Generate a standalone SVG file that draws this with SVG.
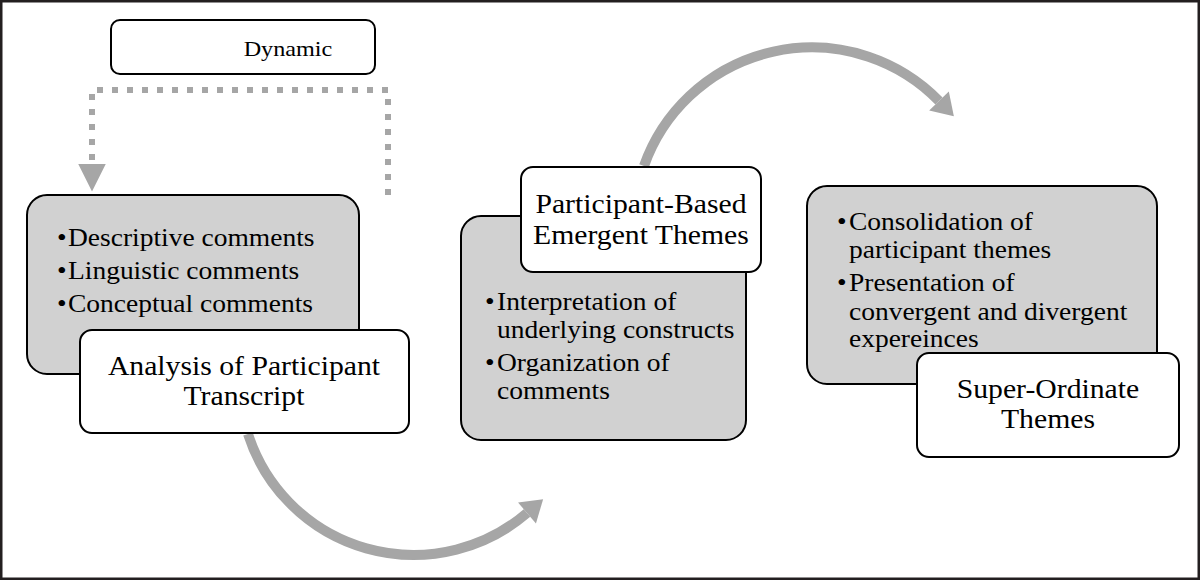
<svg xmlns="http://www.w3.org/2000/svg" width="1200" height="580" viewBox="0 0 1200 580">
<style>
.frame{fill:#fff;stroke:#231f20;stroke-width:2.5}
.gbox{fill:#d1d1d1;stroke:#000;stroke-width:2}
.wbox{fill:#fff;stroke:#000;stroke-width:2}
.t{font-family:"Liberation Serif","Times New Roman",serif;fill:#000}
.title{font-size:27px;text-anchor:middle}
.bul{font-size:25px}
.dyn{font-size:22px;text-anchor:middle}
.arc{fill:none;stroke:#a6a6a6;stroke-width:10}
.dots{fill:none;stroke:#a6a6a6;stroke-width:6;stroke-dasharray:6 9}
</style>
<defs>
<marker id="head" markerUnits="userSpaceOnUse" markerWidth="30" markerHeight="30" viewBox="0 -12 20 24" refX="0" refY="0" orient="auto">
<path d="M0,-11 L17,0 L0,11 Z" fill="#a6a6a6"/>
</marker>
<marker id="dhead" markerUnits="userSpaceOnUse" markerWidth="30" markerHeight="30" viewBox="0 -12 24 24" refX="0" refY="0" orient="auto">
<path d="M0,-11 L22,0 L0,11 Z" fill="#a6a6a6"/>
</marker>
</defs>
<rect class="frame" x="1.25" y="1.25" width="1197.5" height="577.5"/>
<g id="connectors">
<path class="dots" d="M388,195 L388,90 L92,90 L92,164" marker-end="url(#dhead)"/>
<path class="arc" d="M248,434 A174,174 0 0 0 527,513" marker-end="url(#head)"/>
<path class="arc" d="M644,166 A178,178 0 0 1 939,101" marker-end="url(#head)"/>
</g>
<g id="dynamic">
<rect class="wbox" x="111" y="20" width="264" height="54" rx="9"/>
<g transform="scale(1.1,1)"><text class="t dyn" x="261.8" y="56">Dynamic</text></g>
</g>
<g id="analysis">
<rect class="gbox" x="27" y="195" width="332" height="179" rx="20"/>
<g transform="scale(1.1,1)">
<text class="t bul" y="246"><tspan x="51.8">•</tspan><tspan x="61.8">Descriptive comments</tspan></text>
<text class="t bul" y="279"><tspan x="51.8">•</tspan><tspan x="61.8">Linguistic comments</tspan></text>
<text class="t bul" y="312"><tspan x="51.8">•</tspan><tspan x="61.8">Conceptual comments</tspan></text>
</g>
<rect class="wbox" x="80" y="330" width="329" height="103" rx="12"/>
<g transform="scale(1.1,1)">
<text class="t title" x="221.8" y="375">Analysis of Participant</text>
<text class="t title" x="221.8" y="405">Transcript</text>
</g>
</g>
<g id="emergent">
<rect class="gbox" x="461" y="216" width="285" height="224" rx="20"/>
<g transform="scale(1.1,1)">
<text class="t bul" y="310"><tspan x="440.9">•</tspan><tspan x="451.8">Interpretation of</tspan></text>
<text class="t bul" y="338"><tspan x="451.8">underlying constructs</tspan></text>
<text class="t bul" y="371"><tspan x="440.9">•</tspan><tspan x="451.8">Organization of</tspan></text>
<text class="t bul" y="399"><tspan x="451.8">comments</tspan></text>
</g>
<rect class="wbox" x="521" y="167" width="240" height="105" rx="12"/>
<g transform="scale(1.1,1)">
<text class="t title" x="582.7" y="213">Participant-Based</text>
<text class="t title" x="582.7" y="244">Emergent Themes</text>
</g>
</g>
<g id="superordinate">
<rect class="gbox" x="807" y="186" width="350" height="198" rx="20"/>
<g transform="scale(1.1,1)">
<text class="t bul" y="230"><tspan x="760.9">•</tspan><tspan x="771.8">Consolidation of</tspan></text>
<text class="t bul" y="258"><tspan x="771.8">participant themes</tspan></text>
<text class="t bul" y="291"><tspan x="760.9">•</tspan><tspan x="771.8">Presentation of</tspan></text>
<text class="t bul" y="320"><tspan x="771.8">convergent and divergent</tspan></text>
<text class="t bul" y="347"><tspan x="771.8">expereinces</tspan></text>
</g>
<rect class="wbox" x="917" y="353" width="262" height="104" rx="12"/>
<g transform="scale(1.1,1)">
<text class="t title" x="952.7" y="398">Super-Ordinate</text>
<text class="t title" x="952.7" y="428">Themes</text>
</g>
</g>
</svg>
